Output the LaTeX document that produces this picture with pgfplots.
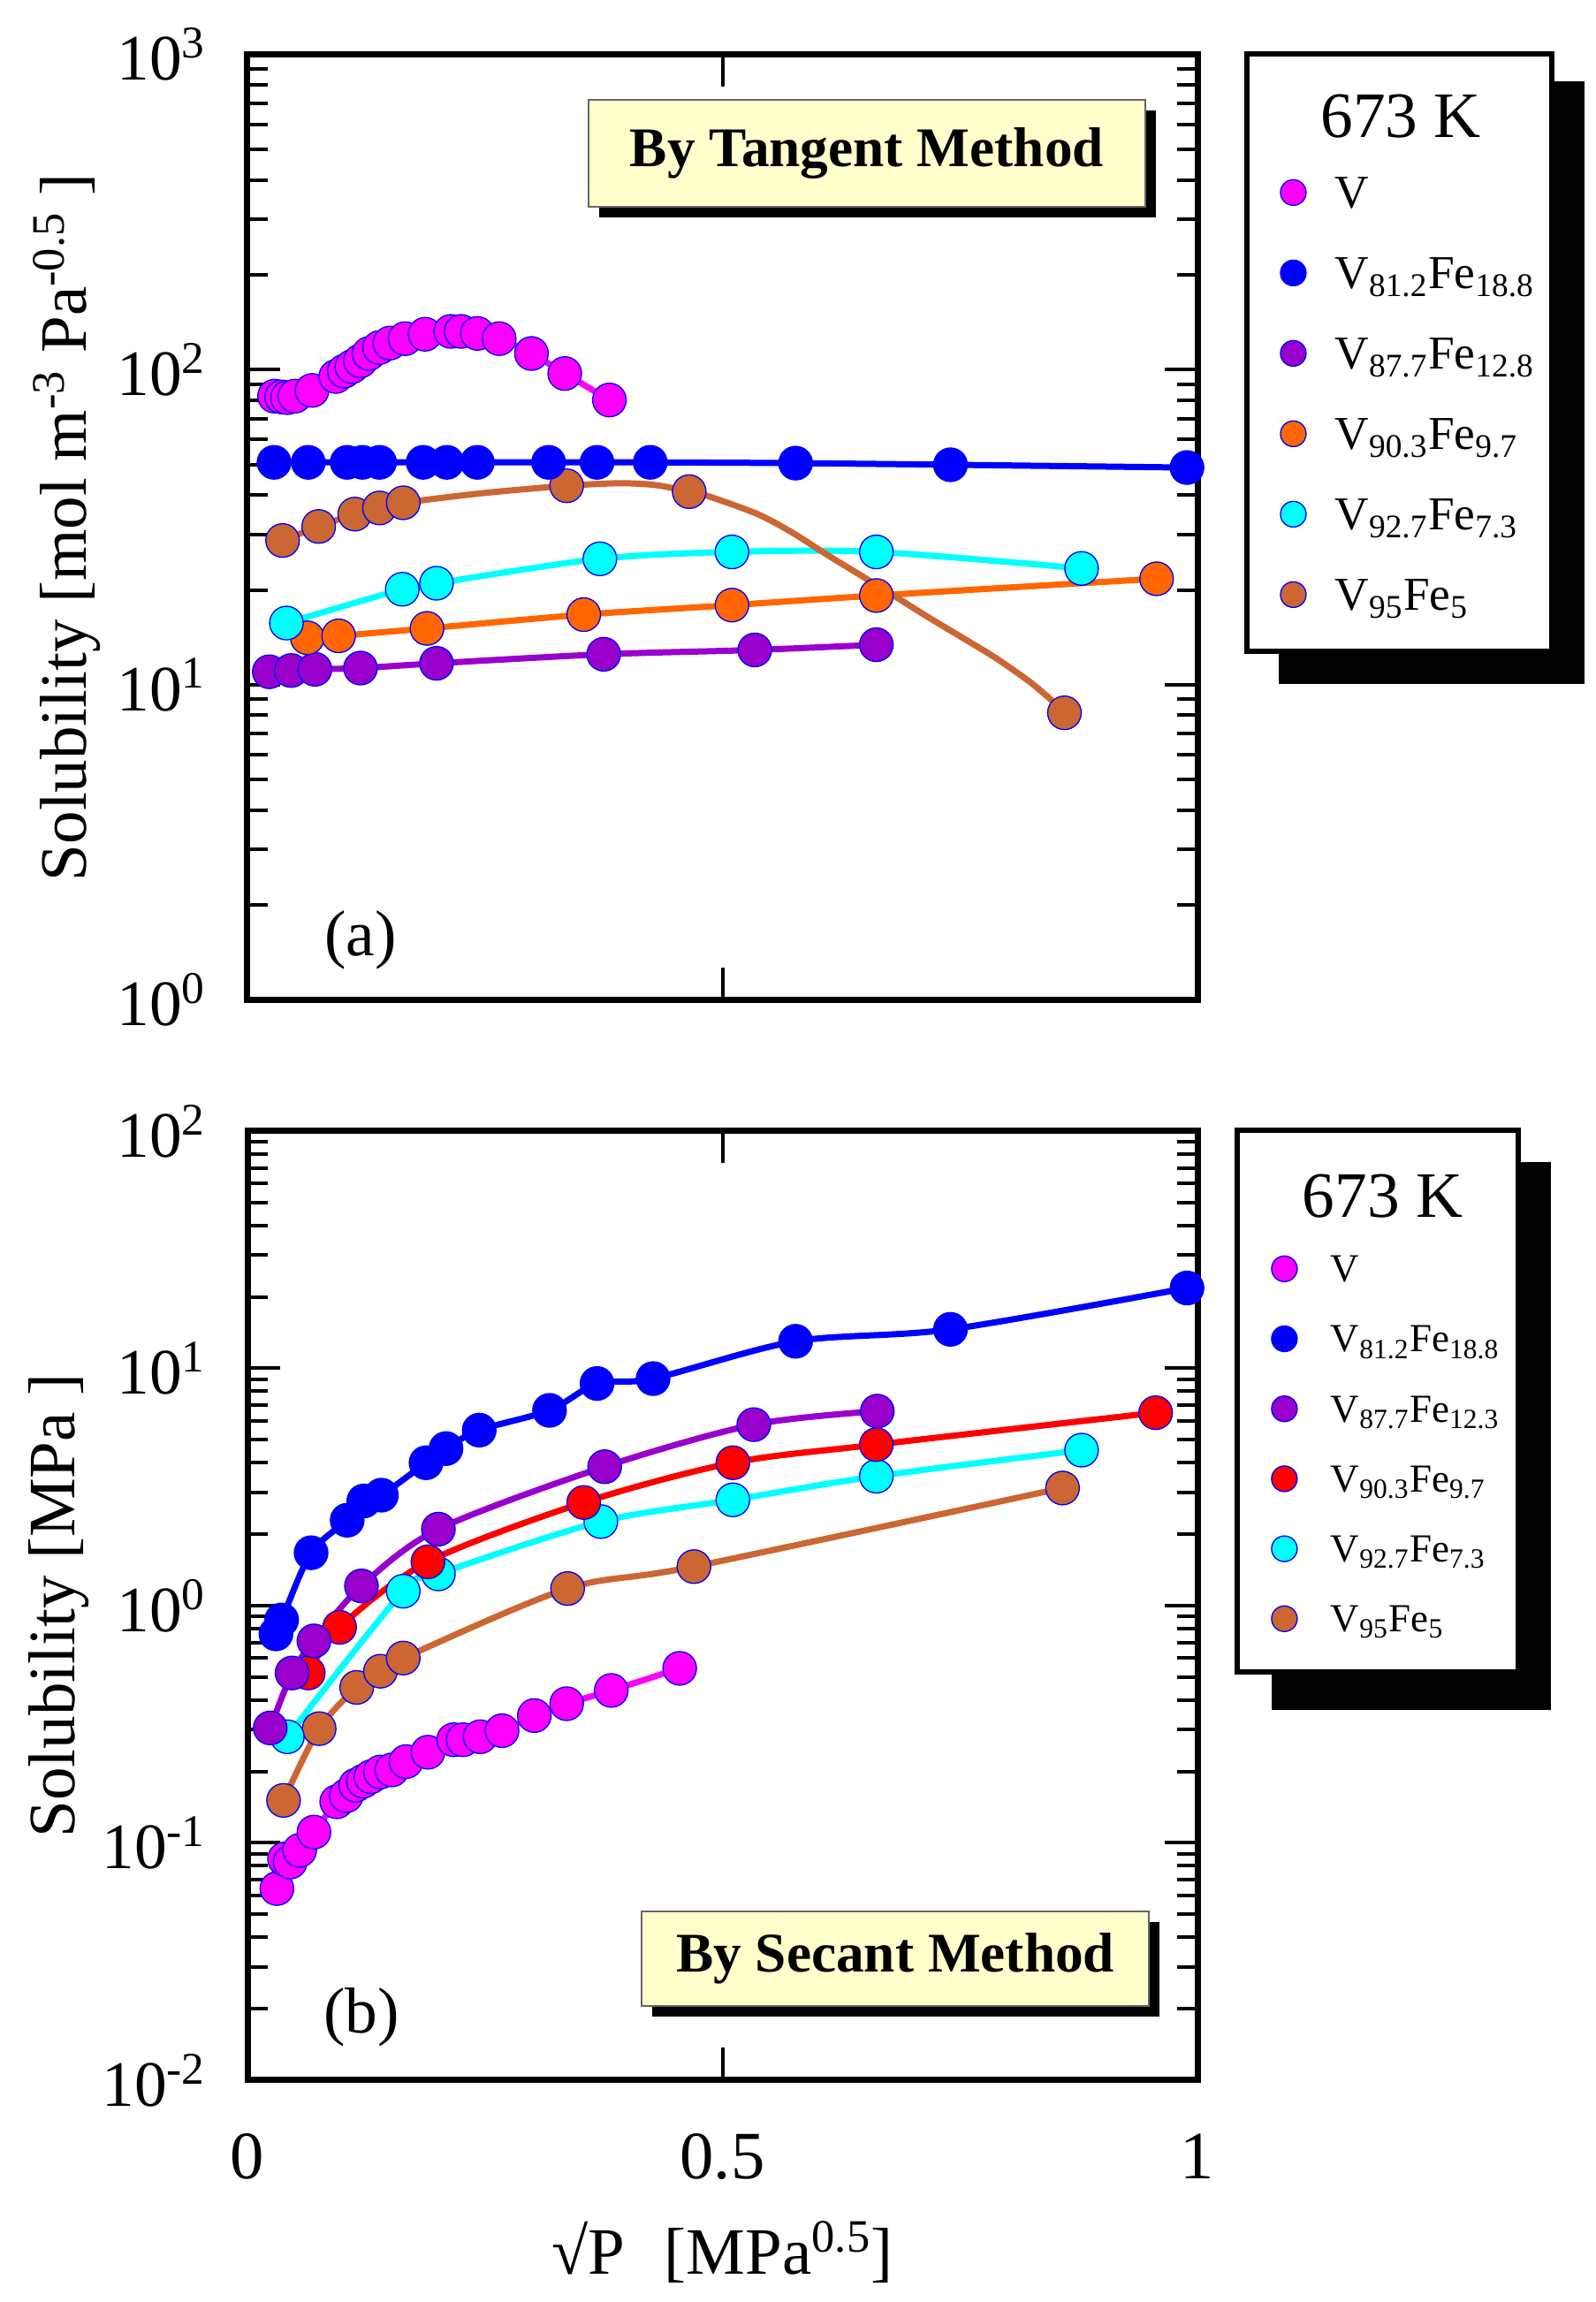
\documentclass[border=0pt]{standalone}
\usepackage{fontspec}
\setmainfont{Liberation Serif}
\usepackage{pgfplots}
\pgfplotsset{compat=1.18}
\definecolor{cMag}{RGB}{255,0,255}
\definecolor{cBlue}{RGB}{0,0,255}
\definecolor{cPur}{RGB}{153,0,204}
\definecolor{cOra}{RGB}{255,102,0}
\definecolor{cCya}{RGB}{0,255,255}
\definecolor{cBro}{RGB}{204,102,51}
\definecolor{cRed}{RGB}{255,0,0}
\definecolor{cBox}{RGB}{255,255,204}
\newcommand\fs[1]{\fontsize{#1pt}{#1pt}\selectfont}
\pgfplotsset{
  mydat/.style={mark=*, mark size=5.7pt, line width=2.1pt, smooth, color=#1,
    mark options={fill=#1, draw=cBlue, line width=0.4pt}},
  myleg/.style={only marks, mark=*, mark size=4.35pt,
    mark options={fill=#1, draw=cBlue, line width=0.4pt}},
}
\begin{document}
\begin{tikzpicture}
\path[use as bounding box] (0pt,0pt) rectangle (541.5pt,-781.5pt);
% ---------------- panel (a) ----------------
\begin{axis}[scale only axis, width=322.5pt, height=321pt, at={(84pt,-18.48pt)}, anchor=north west,
  xmin=0, xmax=1, ymode=log, ymin=1, ymax=1000, clip=false,
  axis line style={line width=2.1pt}, tick align=inside,
  major tick length=11pt, minor tick length=7pt, tick style={line width=1.2pt, black},
  xtick={0,0.5,1}, xticklabels={,,},
  ytick={1,10,100,1000},
  yticklabels={10\textsuperscript{0},10\textsuperscript{1},10\textsuperscript{2},10\textsuperscript{3}},
  yticklabel style={font=\fs{22}, inner sep=0pt, xshift=-13.8pt},
  ylabel={Solubility [mol m\textsuperscript{-3} Pa\textsuperscript{-0.5} ]},
  ylabel style={font=\fs{22.5}, anchor=base, at={(axis description cs:-0.170,0.5)}},
  legend cell align=left,
  legend style={at={(1.0493,1.0035)}, anchor=north west, draw=black, line width=1.8pt, fill=white,
    inner xsep=7.2pt, inner ysep=8.8pt, row sep=6.7pt, column sep=9.8pt,
    nodes={inner sep=0pt, text height=15.6pt, text depth=5pt, font=\fs{16}}},
]
\fill[black] (axis description cs:1.0856,0.9717) rectangle (axis description cs:1.4074,0.3343);
\addlegendimage{empty legend}
\addlegendentry[text height=19.7pt, text depth=1.6pt]{\makebox[66.5pt][l]{\hspace*{-4.8pt}\fs{22}673 K}}
\addlegendimage{myleg=cMag}\addlegendentry{\makebox[66.5pt][l]{V}}
\addlegendimage{myleg=cBlue}\addlegendentry{\makebox[66.5pt][l]{V\textsubscript{81.2}Fe\textsubscript{18.8}}}
\addlegendimage{myleg=cPur}\addlegendentry{\makebox[66.5pt][l]{V\textsubscript{87.7}Fe\textsubscript{12.8}}}
\addlegendimage{myleg=cOra}\addlegendentry{\makebox[66.5pt][l]{V\textsubscript{90.3}Fe\textsubscript{9.7}}}
\addlegendimage{myleg=cCya}\addlegendentry{\makebox[66.5pt][l]{V\textsubscript{92.7}Fe\textsubscript{7.3}}}
\addlegendimage{myleg=cBro}\addlegendentry{\makebox[66.5pt][l]{V\textsubscript{95}Fe\textsubscript{5}}}
% purple
\addplot[mydat=cPur, forget plot] coordinates {(0.023,11.0)(0.046,11.1)(0.071,11.2)(0.119,11.3)(0.199,11.7)(0.375,12.5)(0.534,12.9)(0.662,13.4)};
% orange
\addplot[mydat=cOra, forget plot] coordinates {(0.063,14.1)(0.096,14.3)(0.189,15.1)(0.354,16.7)(0.510,17.9)(0.662,19.2)(0.957,21.7)};
% cyan
\addplot[mydat=cCya, forget plot] coordinates {(0.041,15.7)(0.163,20.1)(0.199,21.0)(0.371,25.1)(0.510,26.4)(0.662,26.4)(0.878,23.4)};
% brown curve
\addplot[color=cBro, line width=2.1pt, smooth, no marks, forget plot] coordinates {(0.037,28.7)(0.075,31.8)(0.113,34.8)(0.139,36.4)(0.164,37.8)(0.249,40.6)(0.336,42.8)(0.392,43.6)(0.430,43.0)(0.465,41.0)(0.487,39.5)(0.537,34.8)(0.572,30.6)(0.608,26.1)(0.644,22.4)(0.679,19.3)(0.715,16.5)(0.751,14.2)(0.787,12.2)(0.822,10.3)(0.844,9.07)(0.860,8.15)};
\addplot[mydat=cBro, only marks, forget plot] coordinates {(0.037,28.7)(0.075,31.8)(0.113,34.8)(0.139,36.4)(0.164,37.8)(0.336,42.8)(0.465,41.0)(0.860,8.15)};
% blue
\addplot[mydat=cBlue, forget plot] coordinates {(0.028,50.8)(0.064,50.8)(0.105,50.8)(0.121,50.8)(0.139,50.8)(0.185,50.8)(0.210,50.8)(0.242,50.8)(0.317,50.8)(0.368,50.8)(0.424,50.8)(0.577,50.5)(0.740,49.9)(0.989,48.9)};
% magenta
\addplot[mydat=cMag, forget plot] coordinates {(0.0285,82.4)(0.036,81.9)(0.042,81.5)(0.050,82.4)(0.068,85.9)(0.093,95.1)(0.102,98.9)(0.110,102.2)(0.119,106.6)(0.128,112.5)(0.139,117.5)(0.150,121.4)(0.166,125.4)(0.187,129.5)(0.214,132.2)(0.225,132.2)(0.242,130.3)(0.265,125.4)(0.299,112.5)(0.334,97.2)(0.381,80.1)};
\fill[black] (axis description cs:0.652,0.895) ++(-94.5pt+3.6pt,-18.15pt-3.6pt) rectangle ++(189pt,36.3pt);
\node[fill=cBox, draw=black!60, line width=0.6pt, minimum width=189pt, minimum height=36.3pt, inner sep=0pt,
  font=\bfseries\fs{19}] at (axis description cs:0.652,0.895) {By Tangent Method};
\node[font=\fs{22}] at (axis description cs:0.119,0.063) {(a)};
\end{axis}
% ---------------- panel (b) ----------------
\begin{axis}[scale only axis, width=322.5pt, height=322.2pt, at={(84pt,-383.97pt)}, anchor=north west,
  xmin=0, xmax=1, ymode=log, ymin=0.01, ymax=100, clip=false,
  axis line style={line width=2.1pt}, tick align=inside,
  major tick length=11pt, minor tick length=7pt, tick style={line width=1.2pt, black},
  xtick={0,0.5,1}, xticklabels={0,0.5,1},
  xticklabel style={font=\fs{23}, inner sep=0pt, yshift=-18.1pt},
  ytick={0.01,0.1,1,10,100},
  yticklabels={10\textsuperscript{-2},10\textsuperscript{-1},10\textsuperscript{0},10\textsuperscript{1},10\textsuperscript{2}},
  yticklabel style={font=\fs{22}, inner sep=0pt, xshift=-13.8pt},
  ylabel={Solubility [MPa ]},
  ylabel style={font=\fs{22.5}, anchor=base, at={(axis description cs:-0.182,0.5)}},
  xlabel={√P\hspace{0.6em}[MPa\textsuperscript{0.5}]},
  xlabel style={at={(axis description cs:0.5,-0.2045)}, anchor=base, font=\fs{22.5}},
  legend cell align=left,
  legend style={at={(1.0387,1.0038)}, anchor=north west, draw=black, line width=1.8pt, fill=white,
    inner xsep=7.6pt, inner ysep=9.2pt, row sep=5.82pt, column sep=11.4pt,
    nodes={inner sep=0pt, text height=13.44pt, text depth=4.5pt, font=\fs{13.5}}},
]
\fill[black] (axis description cs:1.0781,0.9673) rectangle (axis description cs:1.3717,0.3900);
\addlegendimage{empty legend}
\addlegendentry[text height=20.5pt, text depth=2.6pt]{\makebox[55.9pt][l]{\hspace*{-9.6pt}\fs{22}673 K}}
\addlegendimage{myleg=cMag}\addlegendentry{\makebox[55.9pt][l]{V}}
\addlegendimage{myleg=cBlue}\addlegendentry{\makebox[55.9pt][l]{V\textsubscript{81.2}Fe\textsubscript{18.8}}}
\addlegendimage{myleg=cPur}\addlegendentry{\makebox[55.9pt][l]{V\textsubscript{87.7}Fe\textsubscript{12.3}}}
\addlegendimage{myleg=cRed}\addlegendentry{\makebox[55.9pt][l]{V\textsubscript{90.3}Fe\textsubscript{9.7}}}
\addlegendimage{myleg=cCya}\addlegendentry{\makebox[55.9pt][l]{V\textsubscript{92.7}Fe\textsubscript{7.3}}}
\addlegendimage{myleg=cBro}\addlegendentry{\makebox[55.9pt][l]{V\textsubscript{95}Fe\textsubscript{5}}}
% magenta
\addplot[mydat=cMag, forget plot] coordinates {(0.031,0.0642)(0.039,0.0855)(0.045,0.083)(0.055,0.093)(0.070,0.111)(0.094,0.149)(0.104,0.158)(0.114,0.175)(0.122,0.182)(0.130,0.190)(0.140,0.199)(0.152,0.203)(0.167,0.220)(0.190,0.241)(0.217,0.272)(0.227,0.272)(0.245,0.280)(0.268,0.297)(0.302,0.344)(0.336,0.386)(0.383,0.439)(0.455,0.544)};
% brown
\addplot[mydat=cBro, forget plot] coordinates {(0.038,0.151)(0.0755,0.303)(0.115,0.452)(0.140,0.529)(0.164,0.601)(0.337,1.18)(0.470,1.46)(0.858,3.13)};
% cyan
\addplot[mydat=cCya, forget plot] coordinates {(0.042,0.28)(0.164,1.15)(0.201,1.36)(0.372,2.26)(0.511,2.79)(0.662,3.51)(0.878,4.52)};
% red
\addplot[mydat=cRed, forget plot] coordinates {(0.064,0.52)(0.097,0.81)(0.190,1.53)(0.354,2.72)(0.511,4.0)(0.662,4.77)(0.956,6.5)};
% purple
\addplot[mydat=cPur, forget plot] coordinates {(0.024,0.305)(0.047,0.52)(0.070,0.71)(0.120,1.21)(0.201,2.10)(0.376,3.85)(0.533,5.79)(0.663,6.6)};
% blue
\addplot[mydat=cBlue, forget plot] coordinates {(0.030,0.76)(0.036,0.87)(0.067,1.67)(0.105,2.29)(0.1225,2.76)(0.141,2.92)(0.188,4.0)(0.209,4.59)(0.244,5.49)(0.318,6.65)(0.368,8.63)(0.427,9.05)(0.577,13.0)(0.740,14.6)(0.989,21.8)};
\fill[black] (axis description cs:0.682,0.128) ++(-86pt+3.6pt,-16pt-3.6pt) rectangle ++(172pt,32pt);
\node[fill=cBox, draw=black!60, line width=0.6pt, minimum width=172pt, minimum height=32pt, inner sep=0pt,
  font=\bfseries\fs{19}] at (axis description cs:0.682,0.128) {By Secant Method};
\node[font=\fs{22}] at (axis description cs:0.120,0.066) {(b)};
\end{axis}
\end{tikzpicture}
\end{document}
